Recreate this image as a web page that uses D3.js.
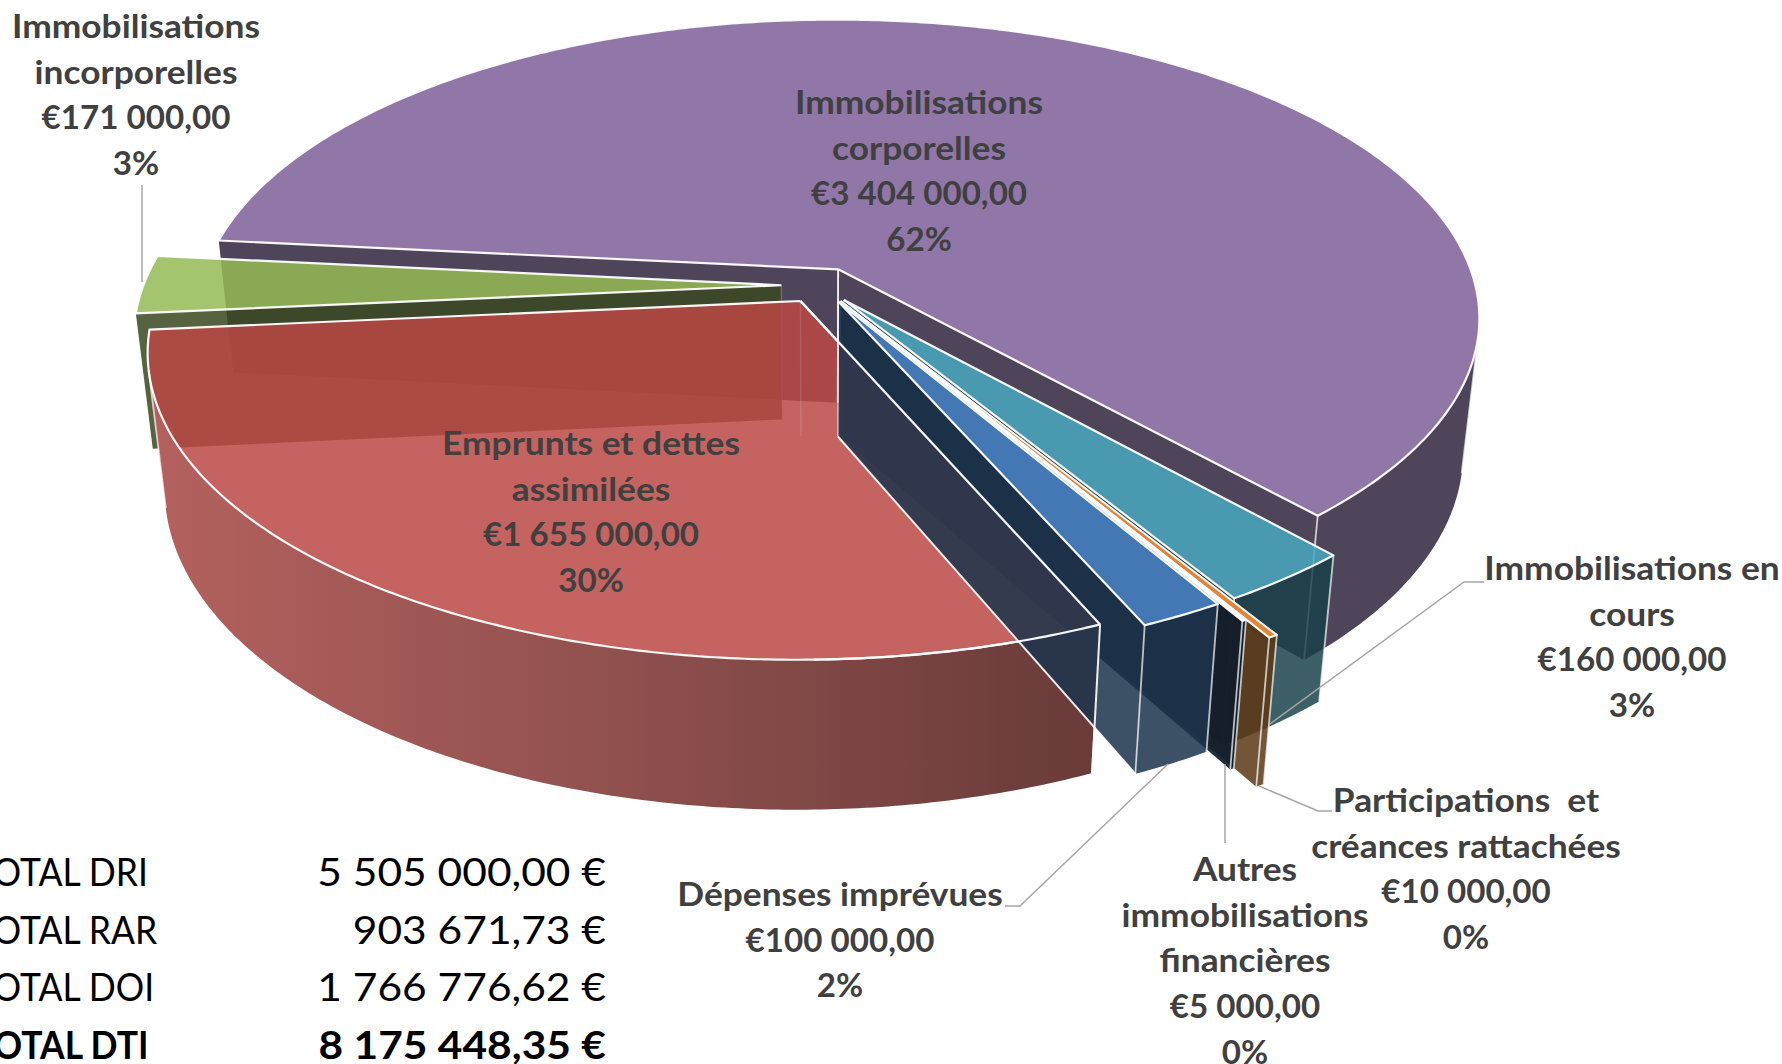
<!DOCTYPE html>
<html>
<head>
<meta charset="utf-8">
<script src="https://cdn.jsdelivr.net/npm/d3@7"></script>
<style>
  html, body { margin: 0; padding: 0; background: #fff; overflow: hidden; }
  svg { display: block; }
  text { font-family: Lato, "Open Sans", sans-serif; white-space: pre; }
</style>
</head>
<body>
<svg id="chart" width="1782" height="1064"></svg>
<script>
// chart values
var sliceNames = [
    ["Immobilisations", "corporelles"],
    ["Immobilisations en", "cours"],
    ["Participations  et", "créances rattachées"],
    ["Autres", "immobilisations", "financières"],
    ["Dépenses imprévues"],
    ["Emprunts et dettes", "assimilées"],
    ["Immobilisations", "incorporelles"]
];
var sliceValues = [3404000, 160000, 10000, 5000, 100000, 1655000, 171000];

var totalLabels = ["TOTAL DRI", "TOTAL RAR", "TOTAL DOI", "TOTAL DTI"];
var totalValues = ["5 505 000,00 €", "903 671,73 €", "1 766 776,62 €", "8 175 448,35 €"];

// slice styles, same order as the values
var topColors = ["#9176a8", "#48a8c1", "#e0863a", "#f8f9fa", "#4478b5", "#bb4844", "#95ba55"];
var topAlpha = [1, 0.85, 1, 1, 1, 0.85, 0.85];
var wallColors = ["#4f455b", "#18404a", "#5d3714", "#0f1c2c", "#1d344d", "#6b3c3a", "#3a4821"];
var wallAlpha = [1, 0.84, 0.85, 0.92, 0.86, 1, 0.86];
var reach = [1, 1, 1.1, 1.05, 1, 1, 1]; // the two tiny slices stick out past the rim
var apexEdgeAlpha = [0.6, 0.5, 0.3, 0.3, 0.6, 0.12, 0.2];

// label centres and leader lines
var labelX = [919, 1632, 1466, 1245, 840, 591, 136];
var labelY = [106, 572, 804, 873, 898, 447, 30];
var leaders = [
    [[1484, 582], [1464, 582], [1270, 724]],
    [[1332, 811], [1318, 811], [1259, 786]],
    [[1225, 843], [1225, 764]],
    [[1005, 906], [1020, 906], [1168, 764]],
    [[142, 185], [142, 282]]
];

var svg = d3.select("#chart");

// pie angles come from d3, 0 is the far side of the disc and they go clockwise
var startAngle = -84.2 * Math.PI / 180;
var pie = d3.pie().sort(null).startAngle(startAngle).endAngle(startAngle + 2 * Math.PI);
var slices = pie(sliceValues);
var total = d3.sum(sliceValues);

// perspective of the disc, fitted on the rim of the reference
var cx = 820.5, cy = 285.3,
    scaleU = 638, scaleV = 295, depth = 137.5,
    persp = 0.162, sink = 0.025, explode = 0.0613;

function project(pt, z) {
    var w = 1 - persp * pt.v + sink * z;
    return [cx + scaleU * pt.u / w, cy + (scaleV * pt.v + depth * z) / w];
}

var line = d3.line();

function cross(a, b, c) {
    return (b[0] - a[0]) * (c[1] - b[1]) - (b[1] - a[1]) * (c[0] - b[0]);
}

// shading of the red side wall
var defs = svg.append("defs");
var grad = defs.append("linearGradient").attr("id", "redWall")
    .attr("gradientUnits", "userSpaceOnUse")
    .attr("x1", 150).attr("x2", 1095).attr("y1", 0).attr("y2", 0);
grad.append("stop").attr("offset", "0%").attr("stop-color", "#b4615e");
grad.append("stop").attr("offset", "50%").attr("stop-color", "#8f504e");
grad.append("stop").attr("offset", "100%").attr("stop-color", "#693b39");

function geometry(s, i) {
    var mid = (s.startAngle + s.endAngle) / 2;
    var ox = explode * Math.sin(mid), oy = -explode * Math.cos(mid);
    var r = reach[i];
    function rim(a) {
        return { u: ox + r * Math.sin(a), v: oy - r * Math.cos(a) };
    }
    var steps = Math.max(2, Math.ceil((s.endAngle - s.startAngle) / 0.01));
    var pts = d3.range(steps + 1).map(function (k) {
        return rim(s.startAngle + (s.endAngle - s.startAngle) * k / steps);
    });
    return {
        apex: { u: ox, v: oy },
        rim: pts,
        top: pts.map(function (p) { return project(p, 0); }),
        bottom: pts.map(function (p) { return project(p, 1); })
    };
}

function drawFace(layer, points, fill, alpha) {
    layer.append("path")
        .attr("d", line(points) + "Z")
        .attr("fill", fill)
        .attr("fill-opacity", alpha);
}

function drawEdge(layer, points, width, alpha) {
    layer.append("path")
        .attr("d", line(points))
        .attr("fill", "none")
        .attr("stroke", "#fff")
        .attr("stroke-width", width)
        .attr("stroke-opacity", alpha)
        .attr("stroke-linejoin", "round");
}

function drawSlice(i) {
    var g = geometry(slices[i], i);
    var layer = svg.append("g").attr("class", "slice");
    var wallFill = i == 5 ? "url(#redWall)" : wallColors[i];
    var apexTop = project(g.apex, 0), apexBottom = project(g.apex, 1);
    var n = g.top.length - 1;
    var firstTop = g.top[0], firstBottom = g.bottom[0];
    var lastTop = g.top[n], lastBottom = g.bottom[n];

    // radial walls, only those turned to the viewer
    if (cross(apexTop, firstTop, firstBottom) < 0) {
        drawFace(layer, [apexTop, firstTop, firstBottom, apexBottom], wallColors[i], wallAlpha[i]);
    }
    if (cross(lastTop, apexTop, apexBottom) < 0) {
        drawFace(layer, [lastTop, apexTop, apexBottom, lastBottom], wallColors[i], wallAlpha[i]);
    }

    // outer wall
    var front = d3.range(n).filter(function (k) {
        return cross(g.top[k], g.top[k + 1], g.bottom[k + 1]) < 0;
    });
    if (front.length) {
        var a = front[0], b = front[front.length - 1] + 1;
        var wall = g.top.slice(a, b + 1).concat(g.bottom.slice(a, b + 1).reverse());
        drawFace(layer, wall, wallFill, wallAlpha[i]);
    }

    // top of the slice
    var outline = [apexTop].concat(g.top);
    drawFace(layer, outline, topColors[i], topAlpha[i]);

    // edges
    drawEdge(layer, outline.concat([apexTop]), i == 2 || i == 3 ? 2 : 2.2, 0.95);
    if (front.length) {
        drawEdge(layer, [g.top[front[0]], g.bottom[front[0]]], 1.8, 0.7);
        drawEdge(layer, [g.top[b], g.bottom[b]], 1.8, 0.7);
    }
    drawEdge(layer, [apexTop, apexBottom], 1.5, apexEdgeAlpha[i]);
    return g;
}

// back to front
var geo = {};
[0, 6, 1, 2, 3, 5, 4].forEach(function (i) { geo[i] = drawSlice(i); });

// lines that stay bright through the glass walls
var overlay = svg.append("g").attr("class", "overlay");
var red = geo[5], blue = geo[4];
drawEdge(overlay, [project(red.apex, 0), red.top[0]], 2.2, 0.95);
drawEdge(overlay, [red.top[0], red.bottom[0]], 2, 0.9);
drawEdge(overlay, red.top.slice(0, 40), 2.2, 0.95);
drawEdge(overlay, [project(blue.apex, 1), blue.bottom[blue.bottom.length - 1]], 2, 0.9);
drawEdge(overlay, [project(geo[0].apex, 0), project(geo[0].apex, 1)], 1.8, 0.85);

// leaders
svg.append("g").selectAll("path").data(leaders).enter().append("path")
    .attr("d", function (d) { return line(d); })
    .attr("fill", "none")
    .attr("stroke", "#a6a6a6")
    .attr("stroke-width", 1.5);

// data labels, stretched a bit since Lato runs narrower than the original face
var euro = function (v) {
    var parts = d3.format(",.2f")(v).split(".");
    return "€" + parts[0].replace(/,/g, " ") + "," + parts[1];
};
var lineGap = 45.6;
sliceNames.forEach(function (name, i) {
    var lines = name.concat([euro(sliceValues[i]), d3.format(".0%")(sliceValues[i] / total)]);
    var t = svg.append("g").attr("class", "label");
    lines.forEach(function (txt, k) {
        var stretch = k < name.length ? 1.14 : 1.07; // digits are already wide
        t.append("text")
            .attr("transform", "translate(" + labelX[i] + "," + (labelY[i] + k * lineGap) + ") scale(" + stretch + ",1.02)")
            .attr("text-anchor", "middle")
            .attr("dominant-baseline", "middle")
            .attr("font-size", 31)
            .attr("font-weight", 700)
            .attr("fill", "#404040")
            .text(txt);
    });
});

// totals table under the pie, its left edge runs off the picture
totalLabels.forEach(function (txt, i) {
    var weight = i == 3 ? 700 : 400;
    var y = 876.5 + i * 57.4;
    svg.append("text")
        .attr("transform", "translate(-27," + y + ") scale(0.91,1)")
        .attr("dominant-baseline", "middle")
        .attr("font-size", 39).attr("font-weight", weight).attr("fill", "#000")
        .text(txt);
    svg.append("text")
        .attr("transform", "translate(606," + y + ") scale(1.09,1)")
        .attr("text-anchor", "end")
        .attr("dominant-baseline", "middle")
        .attr("font-size", 39).attr("font-weight", weight).attr("fill", "#000")
        .text(totalValues[i]);
});
</script>
</body>
</html>
